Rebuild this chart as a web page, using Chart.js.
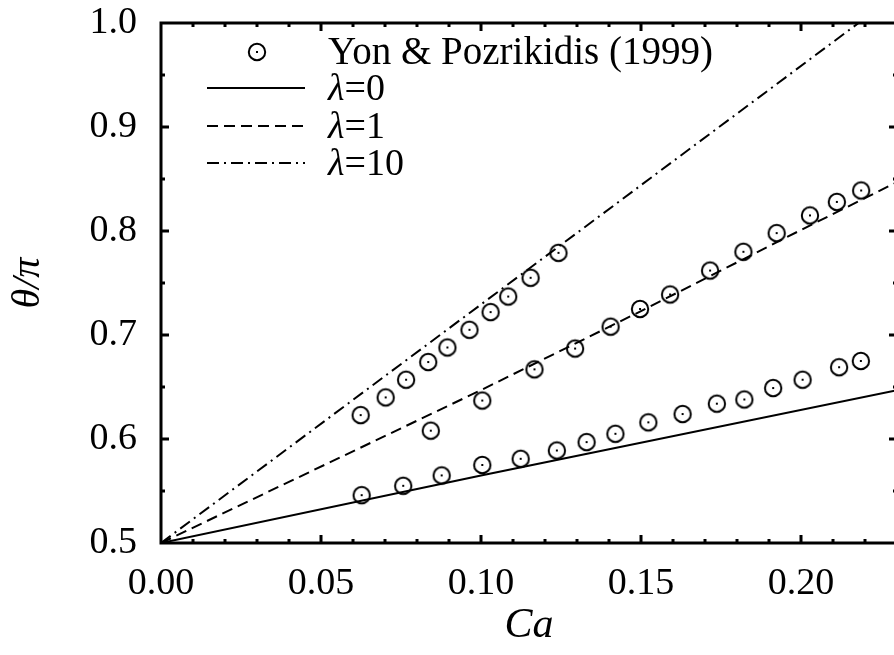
<!DOCTYPE html>
<html>
<head>
<meta charset="utf-8">
<script src="https://cdn.jsdelivr.net/npm/chart.js@4.4.0/dist/chart.umd.min.js"></script>
<style>
html, body { margin: 0; padding: 0; background: #fff; overflow: hidden; }
</style>
</head>
<body>
<canvas id="myChart" width="907" height="655"></canvas>
<script>
// Yon & Pozrikidis (1999) data
var caRef0 = [0.0627,0.0757,0.0877,0.1004,0.1124,0.1237,0.1330,0.1420,0.1523,0.1630,0.1737,0.1823,0.1913,0.2005,0.2119,0.2187];
var thRef0 = [0.546,0.555,0.565,0.575,0.581,0.589,0.597,0.605,0.616,0.624,0.634,0.638,0.649,0.657,0.669,0.675];
var caRef1 = [0.0843,0.1004,0.1167,0.1294,0.1405,0.1497,0.1591,0.1716,0.1820,0.1924,0.2028,0.2112,0.2188];
var thRef1 = [0.608,0.637,0.667,0.687,0.708,0.725,0.739,0.762,0.780,0.798,0.815,0.828,0.839];
var caRef10 = [0.0624,0.0702,0.0766,0.0835,0.0895,0.0964,0.1030,0.1085,0.1155,0.1242];
var thRef10 = [0.623,0.640,0.657,0.674,0.688,0.705,0.722,0.737,0.755,0.779];

// model curves
var caLam0 = [0, 0.1, 0.23];
var thLam0 = [0.5, 0.565, 0.647];
var caLam1 = [0, 0.1, 0.15, 0.2, 0.23];
var thLam1 = [0.5, 0.647, 0.723, 0.801, 0.847];
var caLam10 = [0, 0.218];
var thLam10 = [0.5, 1.0];

var labels = ['Yon & Pozrikidis (1999)', 'λ=0', 'λ=1', 'λ=10'];

function pts(xs, ys) {
    return xs.map(function (x, i) { return { x: x, y: ys[i] }; });
}

// circle with a dot in the middle
function makeMarker() {
    var c = document.createElement('canvas');
    c.width = 24; c.height = 24;
    var g = c.getContext('2d');
    g.strokeStyle = '#000';
    g.lineWidth = 2;
    g.beginPath();
    g.arc(12, 12, 8.2, 0, Math.PI * 2);
    g.stroke();
    g.fillStyle = '#000';
    g.fillRect(11, 11, 2, 2);
    return c;
}
var marker = makeMarker();

function refSet(xs, ys) {
    return {
        label: labels[0],
        data: pts(xs, ys),
        showLine: false,
        pointStyle: marker,
        pointRadius: 9,
        order: 0
    };
}
function lineSet(label, xs, ys, dash) {
    return {
        label: label,
        data: pts(xs, ys),
        showLine: true,
        borderColor: '#000',
        borderWidth: 2,
        borderDash: dash,
        pointRadius: 0,
        fill: false,
        order: 1
    };
}

// inward ticks on all four sides plus the frame
var frameTicks = {
    id: 'frameTicks',
    afterDatasetsDraw: function (chart) {
        var ctx = chart.ctx, a = chart.chartArea;
        var xs = chart.scales.x, ys = chart.scales.y;
        ctx.save();
        ctx.strokeStyle = '#000';
        ctx.lineWidth = 3;
        ctx.beginPath();
        var i, v, p, len;
        for (i = 1; i <= 23; i++) {
            v = i / 100;
            len = (i % 5 === 0) ? 8 : 4;
            p = xs.getPixelForValue(v);
            ctx.moveTo(p, a.bottom); ctx.lineTo(p, a.bottom - len);
            ctx.moveTo(p, a.top); ctx.lineTo(p, a.top + len);
        }
        for (i = 11; i <= 19; i++) {
            v = i / 20;
            len = (i % 2 === 0) ? 8 : 4;
            p = ys.getPixelForValue(v);
            ctx.moveTo(a.left, p); ctx.lineTo(a.left + len, p);
            ctx.moveTo(a.right, p); ctx.lineTo(a.right - len, p);
        }
        ctx.stroke();
        ctx.strokeRect(a.left, a.top, a.right - a.left, a.bottom - a.top);
        ctx.restore();
    }
};

// legend in the upper left of the plot
var insideLegend = {
    id: 'insideLegend',
    afterDraw: function (chart) {
        var ctx = chart.ctx, a = chart.chartArea;
        var sets = chart.data.datasets;
        var items = [sets[0], sets[3], sets[4], sets[5]];
        var rowY = [29, 65, 103, 140];
        var x0 = a.left + 46, x1 = a.left + 144, tx = a.left + 167;
        ctx.save();
        ctx.fillStyle = '#000';
        ctx.strokeStyle = '#000';
        ctx.textBaseline = 'alphabetic';
        items.forEach(function (ds, i) {
            var y = a.top + rowY[i];
            if (i === 0) {
                ctx.drawImage(marker, a.left + 96 - 12, y - 12);
            } else {
                ctx.lineWidth = 2;
                ctx.setLineDash(ds.borderDash || []);
                ctx.beginPath();
                ctx.moveTo(x0, y); ctx.lineTo(x1, y);
                ctx.stroke();
                ctx.setLineDash([]);
            }
            var base = y + 11.5;
            var txt = ds.label;
            if (txt.charAt(0) === 'λ') {
                ctx.font = 'italic 38px "Liberation Serif"';
                ctx.fillText('λ', tx, base);
                var w = ctx.measureText('λ').width;
                ctx.font = '38px "Liberation Serif"';
                ctx.fillText(txt.slice(1), tx + w, base);
            } else {
                ctx.font = '39px "Liberation Serif"';
                ctx.fillText(txt, tx, base);
            }
        });
        ctx.restore();
    }
};

var tickFont = { family: '"Liberation Serif"', size: 38 };

var ctx = document.getElementById('myChart').getContext('2d');
var myChart = new Chart(ctx, {
    type: 'scatter',
    data: {
        datasets: [
            refSet(caRef0, thRef0),
            refSet(caRef1, thRef1),
            refSet(caRef10, thRef10),
            lineSet(labels[1], caLam0, thLam0, []),
            lineSet(labels[2], caLam1, thLam1, [11, 6]),
            lineSet(labels[3], caLam10, thLam10, [12, 5, 2, 5])
        ]
    },
    options: {
        responsive: false,
        animation: false,
        layout: { padding: { left: 0, right: 3, top: 23, bottom: 0 } },
        plugins: {
            legend: { display: false },
            tooltip: { enabled: false }
        },
        scales: {
            x: {
                type: 'linear',
                min: 0,
                max: 0.23,
                grid: { display: false, drawTicks: false },
                border: { display: false },
                ticks: {
                    stepSize: 0.05,
                    includeBounds: false,
                    color: '#000',
                    font: tickFont,
                    padding: 18,
                    maxRotation: 0,
                    callback: function (v) { return v.toFixed(2); }
                },
                title: {
                    display: true,
                    text: 'Ca',
                    color: '#000',
                    font: { family: '"Liberation Serif"', size: 42, style: 'italic' }
                },
                afterFit: function (s) {
                    s.height = 112;
                    s.paddingLeft = 0; s.paddingRight = 0;
                }
            },
            y: {
                type: 'linear',
                min: 0.5,
                max: 1.0,
                grid: { display: false, drawTicks: false },
                border: { display: false },
                ticks: {
                    stepSize: 0.1,
                    color: '#000',
                    font: tickFont,
                    padding: 24,
                    callback: function (v) { return v.toFixed(1); }
                },
                title: {
                    display: true,
                    text: 'θ/π',
                    color: '#000',
                    font: { family: '"Liberation Serif"', size: 40, style: 'italic' }
                },
                afterFit: function (s) {
                    s.width = 161;
                    s.paddingTop = 0; s.paddingBottom = 0;
                }
            }
        }
    },
    plugins: [frameTicks, insideLegend]
});
</script>
</body>
</html>
